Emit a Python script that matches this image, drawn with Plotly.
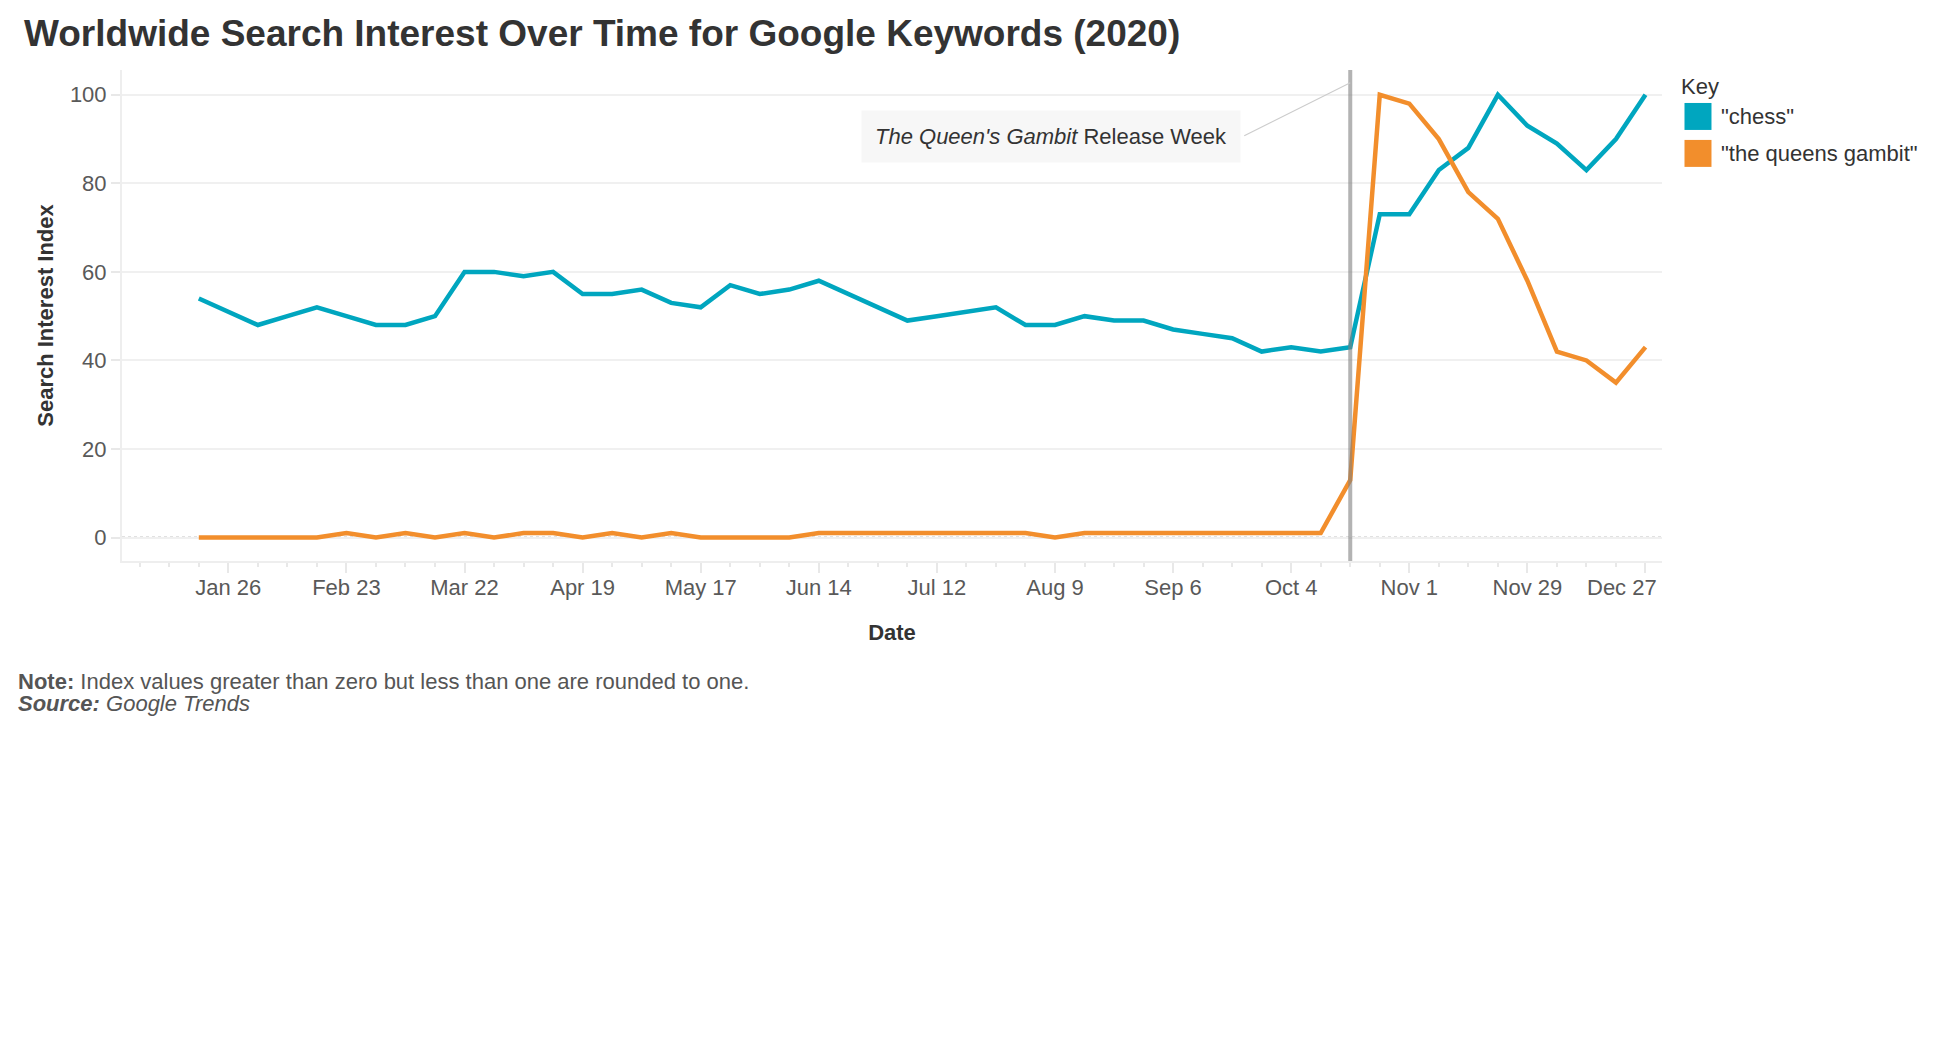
import pandas as pd
import plotly.graph_objects as go

# ---------------- data ----------------
weeks = pd.date_range("2020-01-19", periods=50, freq="7D")

chess = [54, 51, 48, 50, 52, 50, 48, 48, 50, 60,
         60, 59, 60, 55, 55, 56, 53, 52, 57, 55,
         56, 58, 55, 52, 49, 50, 51, 52, 48, 48,
         50, 49, 49, 47, 46, 45, 42, 43, 42, 43,
         73, 73, 83, 88, 100, 93, 89, 83, 90, 100]

queens_gambit = [0, 0, 0, 0, 0, 1, 0, 1, 0, 1,
                 0, 1, 1, 0, 1, 0, 1, 0, 0, 0,
                 0, 1, 1, 1, 1, 1, 1, 1, 1, 0,
                 1, 1, 1, 1, 1, 1, 1, 1, 1, 13,
                 100, 98, 90, 78, 72, 58, 42, 40, 35, 43]

series_names = ['"chess"', '"the queens gambit"']
series_values = [chess, queens_gambit]
series_colors = ["#00a6bf", "#f28e2c"]

tick_dates = pd.date_range("2020-01-26", periods=12, freq="28D")
tick_labels = ["Jan 26", "Feb 23", "Mar 22", "Apr 19", "May 17", "Jun 14",
               "Jul 12", "Aug 9", "Sep 6", "Oct 4", "Nov 1", "Nov 29"]
last_tick_date = pd.Timestamp("2020-12-27")
last_tick_label = "Dec 27"

y_ticks = [0, 20, 40, 60, 80, 100]
release_week = pd.Timestamp("2020-10-18")

# ---------------- layout helpers ----------------
W, H = 1948, 1042
L, R, T, B = 122, 1662.5, 70, 561.5
FONT = "Liberation Sans, Arial, Helvetica, sans-serif"
FS = 22


def px_x(p):
    return (p - L) / (R - L)


def px_y(p):
    return (B - p) / (B - T)


fig = go.Figure()

for name, vals, col in zip(series_names, series_values, series_colors):
    fig.add_trace(go.Scatter(
        x=weeks, y=vals, mode="lines", name=name,
        line=dict(color=col, width=4.5), showlegend=False,
        hovertemplate="%{x|%b %d}: %{y}<extra>" + name + "</extra>"))

shapes = []
annotations = []

# dotted zero baseline
shapes.append(dict(type="line", xref="paper", x0=0, x1=1, yref="y", y0=0, y1=0,
                   line=dict(color="#c4c4c4", width=2, dash="dot"), layer="below"))

# release week rule
shapes.append(dict(type="line", xref="x", x0=release_week, x1=release_week,
                   yref="paper", y0=0, y1=1,
                   line=dict(color="rgba(128,128,128,0.6)", width=4), layer="above"))

# leader line from annotation box to rule
shapes.append(dict(type="line", xref="x", xsizemode="pixel", xanchor=release_week,
                   x0=-106, x1=0, yref="y", ysizemode="pixel", yanchor=100,
                   y0=-41, y1=12, line=dict(color="#cccccc", width=1.2)))

annotations.append(dict(
    x=release_week, y=100, xref="x", yref="y", xshift=-299, yshift=-42,
    text="<i>The Queen's Gambit</i> Release Week", showarrow=False,
    font=dict(family=FONT, size=FS, color="#333333"),
    bgcolor="#f7f7f7", borderpad=13, xanchor="center", yanchor="middle"))

# flush last tick label
annotations.append(dict(
    x=1, xref="paper", y=0, yref="paper", xanchor="right", yanchor="middle",
    xshift=-3, yshift=-26, text=last_tick_label, showarrow=False,
    font=dict(family=FONT, size=FS, color="#595959")))

# custom legend
annotations.append(dict(x=px_x(1680), y=px_y(86.7), xref="paper", yref="paper",
                        xanchor="left", yanchor="middle", text="Key", showarrow=False,
                        font=dict(family=FONT, size=FS, color="#333333")))
for i, (name, col) in enumerate(zip(series_names, series_colors)):
    top = 103 + i * 37
    shapes.append(dict(type="rect", xref="paper", yref="paper",
                       x0=px_x(1685), x1=px_x(1712), y0=px_y(top), y1=px_y(top + 27),
                       fillcolor=col, line=dict(width=0)))
    annotations.append(dict(x=px_x(1720), y=px_y(top + 14), xref="paper", yref="paper",
                            xanchor="left", yanchor="middle", text=name, showarrow=False,
                            font=dict(family=FONT, size=FS, color="#333333")))

# note and source
annotations.append(dict(x=px_x(16), y=px_y(682), xref="paper", yref="paper",
                        xanchor="left", yanchor="middle", showarrow=False,
                        text="<b>Note:</b> Index values greater than zero but less than one are rounded to one.",
                        font=dict(family=FONT, size=FS, color="#555555")))
annotations.append(dict(x=px_x(16), y=px_y(704), xref="paper", yref="paper",
                        xanchor="left", yanchor="middle", showarrow=False,
                        text="<b><i>Source:</i></b> <i>Google Trends</i>",
                        font=dict(family=FONT, size=FS, color="#555555")))

tickvals = list(tick_dates) + [last_tick_date]
ticktext = tick_labels + [""]

fig.update_layout(
    width=W, height=H,
    margin=dict(l=L, r=W - R, t=T, b=H - B, pad=0),
    paper_bgcolor="white", plot_bgcolor="white",
    font=dict(family=FONT, size=FS, color="#333333"),
    title=dict(text="<b>Worldwide Search Interest Over Time for Google Keywords (2020)</b>",
               xref="container", yref="container", x=24 / W, y=1 - 33 / H,
               xanchor="left", yanchor="middle",
               font=dict(family=FONT, size=37, color="#333333")),
    showlegend=False,
    shapes=shapes, annotations=annotations,
    xaxis=dict(type="date", range=["2019-12-31 19:00", "2020-12-30 22:00"],
               tickmode="array", tickvals=tickvals, ticktext=ticktext,
               ticks="outside", ticklen=10, tickwidth=2, tickcolor="#e8e8e8",
               ticklabelstandoff=-4,
               tickfont=dict(family=FONT, size=FS, color="#595959"),
               showgrid=False, zeroline=False,
               showline=True, linecolor="#eeeeee", linewidth=2,
               minor=dict(tick0="2020-01-05", dtick=7 * 86400000, ticks="outside",
                          ticklen=4, tickwidth=2, tickcolor="#e8e8e8", showgrid=False),
               title=dict(text="<b>Date</b>", standoff=25,
                          font=dict(family=FONT, size=FS, color="#333333"))),
    yaxis=dict(range=[-5.3, 105.6], tickmode="array", tickvals=y_ticks,
               ticks="outside", ticklen=9, tickwidth=2, tickcolor="#e8e8e8",
               tickfont=dict(family=FONT, size=FS, color="#595959"),
               showgrid=True, gridcolor="#f0f0f0", gridwidth=2, zeroline=False,
               showline=True, linecolor="#eeeeee", linewidth=2,
               title=dict(text="<b>Search Interest Index</b>", standoff=10,
                          font=dict(family=FONT, size=FS, color="#333333"))),
)

fig.write_html("out.html", config={"displayModeBar": False},
               post_script="document.body.style.margin='0';document.body.style.overflow='hidden';")
